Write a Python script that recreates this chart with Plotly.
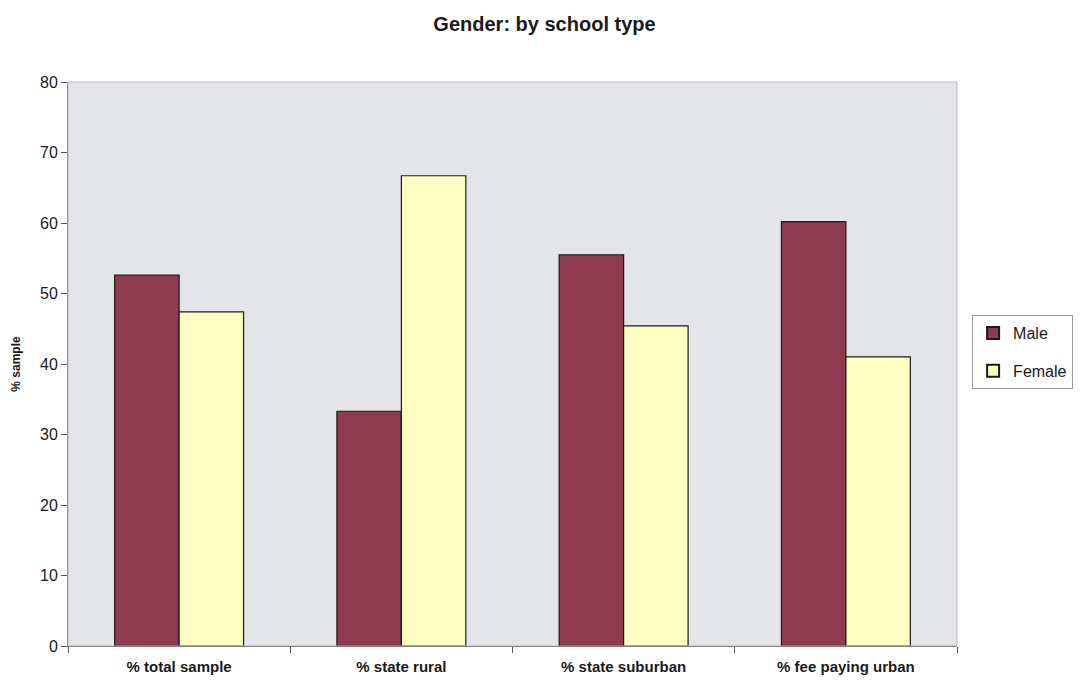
import plotly.graph_objects as go

# School types and percentage of each gender within them
categories = ["% total sample", "% state rural", "% state suburban", "% fee paying urban"]
male = [52.6, 33.3, 55.5, 60.2]
female = [47.4, 66.7, 45.4, 41.0]
y_ticks = [0, 10, 20, 30, 40, 50, 60, 70, 80]

FONT = "Liberation Sans, Arial, sans-serif"

fig = go.Figure()
fig.add_trace(go.Bar(
    name="Male", x=categories, y=male, legendgroup="m",
    marker=dict(color="#8e3b52", line=dict(color="#1a1a1a", width=1.2)),
))
fig.add_trace(go.Bar(
    name="Female", x=categories, y=female, legendgroup="f",
    marker=dict(color="#ffffc4", line=dict(color="#1a1a1a", width=1.2)),
))

fig.update_layout(
    width=1089, height=681,
    barmode="group", bargap=0.42, bargroupgap=0,
    paper_bgcolor="white", plot_bgcolor="#e3e5e9",
    margin=dict(l=68, r=132, t=82, b=35),
    font=dict(family=FONT, color="#1a1a1a"),
    title=dict(text="<b>Gender: by school type</b>", x=0.5, xanchor="center",
               y=0.965, yanchor="middle", font=dict(size=20, family=FONT)),
    legend=dict(x=1.017, xanchor="left", y=0.521, yanchor="middle",
                bordercolor="#9a9a9a", borderwidth=1, bgcolor="white",
                font=dict(size=16, family=FONT), itemsizing="constant",
                tracegroupgap=14),
    showlegend=True,
)
fig.update_xaxes(
    tickson="boundaries", ticks="outside", ticklen=6, tickcolor="#555",
    showline=True, linecolor="#555", linewidth=1,
    tickvals=categories, ticktext=[f"<b>{c}</b>" for c in categories],
    tickfont=dict(size=15, family=FONT), ticklabelstandoff=7,
    mirror=False, showgrid=False, automargin=False,
)
fig.update_yaxes(
    range=[0, 80], tickvals=y_ticks, ticks="outside", ticklen=6, tickcolor="#555",
    showline=True, linecolor="#777", linewidth=1, showgrid=False, zeroline=False,
    tickfont=dict(size=16, family=FONT),
    title=dict(text="<b>% sample</b>", font=dict(size=12, family=FONT), standoff=16),
)
# light frame around the plotting area
fig.add_shape(type="rect", xref="paper", yref="paper", x0=0, y0=0, x1=1, y1=1,
              line=dict(color="#b8b8b8", width=1), layer="above")

fig.write_html("out.html")
